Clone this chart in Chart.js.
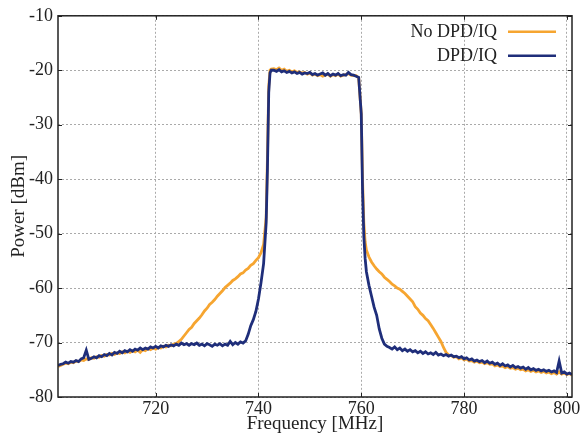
<!DOCTYPE html>
<html>
<head>
<meta charset="utf-8">
<script src="https://cdn.jsdelivr.net/npm/chart.js@4/dist/chart.umd.min.js"></script>
<style>
  body { margin: 0; background: #fff; }
  #wrap { width: 584px; height: 441px; }
</style>
</head>
<body>
<div id="wrap"><canvas id="c"></canvas></div>
<script>
// frequency axis [MHz]
const freq = [
  701, 701.5, 702, 702.5, 703, 703.5, 704, 704.5, 705, 705.5,
  706, 706.5, 707, 707.5, 708, 708.5, 709, 709.5, 710, 710.5,
  711, 711.5, 712, 712.5, 713, 713.5, 714, 714.5, 715, 715.5,
  716, 716.5, 717, 717.5, 718, 718.5, 719, 719.5, 720, 720.5,
  721, 721.5, 722, 722.5, 723, 723.5, 724, 724.5, 725, 725.5,
  726, 726.5, 727, 727.5, 728, 728.5, 729, 729.5, 730, 730.5,
  731, 731.5, 732, 732.5, 733, 733.5, 734, 734.5, 735, 735.5,
  736, 736.5, 737, 737.5, 738, 738.5, 739, 739.5, 740, 740.5,
  741, 741.5, 741.75, 742, 742.25, 742.5, 743, 743.5, 744, 744.5,
  745, 745.5, 746, 746.5, 747, 747.5, 748, 748.5, 749, 749.5,
  750, 750.5, 751, 751.5, 752, 752.5, 753, 753.5, 754, 754.5,
  755, 755.5, 756, 756.5, 757, 757.5, 758, 758.5, 759, 759.5,
  760, 760.25, 760.5, 760.75, 761, 761.5, 762, 762.5, 763, 763.5,
  764, 764.5, 765, 765.5, 766, 766.5, 767, 767.5, 768, 768.5,
  769, 769.5, 770, 770.5, 771, 771.5, 772, 772.5, 773, 773.5,
  774, 774.5, 775, 775.5, 776, 776.5, 777, 777.5, 778, 778.5,
  779, 779.5, 780, 780.5, 781, 781.5, 782, 782.5, 783, 783.5,
  784, 784.5, 785, 785.5, 786, 786.5, 787, 787.5, 788, 788.5,
  789, 789.5, 790, 790.5, 791, 791.5, 792, 792.5, 793, 793.5,
  794, 794.5, 795, 795.5, 796, 796.5, 797, 797.5, 798, 798.5,
  799, 799.5, 800, 800.5, 801
];

// power [dBm], without DPD/IQ correction
const noDpd = [
  -74.4, -74.2, -74.0, -73.8, -73.9, -73.6, -73.7, -73.4, -73.5, -73.2,
  -73.3, -73.0, -73.1, -72.8, -72.9, -72.6, -72.7, -72.4, -72.5, -72.2,
  -72.3, -72.0, -72.2, -71.9, -72.0, -71.7, -71.9, -71.6, -71.8, -71.5,
  -71.7, -71.4, -71.8, -71.3, -71.5, -71.1, -71.3, -71.0, -71.2, -70.9,
  -71.0, -70.7, -70.8, -70.5, -70.6, -70.3, -70.2, -69.8, -69.4, -68.8,
  -68.2, -67.6, -67.2, -66.5, -66.0, -65.5, -64.9, -64.2, -63.7, -63.0,
  -62.6, -62.1, -61.5, -61.0, -60.5, -59.9, -59.5, -59.1, -58.6, -58.3,
  -57.9, -57.4, -57.2, -56.7, -56.4, -55.8, -55.5, -54.9, -54.4, -53.5,
  -52.0, -47.0, -36.0, -23.0, -20.0, -19.8, -19.7, -19.9, -19.6, -20.0,
  -19.8, -20.2, -20.0, -20.3, -20.1, -20.4, -20.3, -20.5, -20.4, -20.7,
  -20.5, -20.9, -20.7, -21.0, -20.8, -21.1, -20.9, -20.7, -21.1, -20.8,
  -21.0, -20.7, -21.1, -20.9, -20.8, -20.6, -20.9, -21.0, -21.0, -21.4,
  -28.0, -40.0, -48.0, -51.5, -53.0, -54.3, -55.2, -55.9, -56.5, -57.0,
  -57.4, -58.0, -58.4, -58.8, -59.3, -59.6, -60.0, -60.2, -60.6, -61.0,
  -61.5, -62.0, -62.5, -63.4, -63.9, -64.6, -65.0, -65.6, -66.0, -66.7,
  -67.4, -68.2, -69.0, -69.8, -70.9, -71.8, -72.3, -72.4, -72.7, -72.6,
  -73.0, -72.8, -73.2, -73.0, -73.4, -73.3, -73.6, -73.4, -73.7, -73.6,
  -73.9, -73.7, -74.0, -73.9, -74.3, -74.1, -74.4, -74.3, -74.6, -74.4,
  -74.7, -74.6, -74.9, -74.7, -75.0, -74.9, -75.2, -75.0, -75.3, -75.1,
  -75.4, -75.2, -75.5, -75.3, -75.6, -75.4, -75.7, -75.5, -75.8, -75.4,
  -75.8, -75.6, -75.9, -75.7, -76.0
];

// power [dBm], with DPD/IQ correction
const dpd = [
  -74.2, -74.0, -73.9, -73.6, -73.8, -73.5, -73.6, -73.3, -73.5, -73.0,
  -72.8, -71.4, -73.1, -72.9, -72.6, -72.8, -72.4, -72.6, -72.2, -72.4,
  -72.0, -72.3, -71.8, -72.0, -71.6, -71.9, -71.5, -71.7, -71.3, -71.6,
  -71.2, -71.4, -71.0, -71.3, -71.0, -71.2, -70.8, -71.0, -70.7, -71.0,
  -70.6, -70.8, -70.5, -70.7, -70.4, -70.6, -70.3, -70.5, -70.1, -70.4,
  -70.2, -70.5, -70.2, -70.4, -70.1, -70.5, -70.3, -70.6, -70.2, -70.4,
  -70.7, -70.3, -70.5, -70.2, -70.6, -70.3, -70.5, -69.8, -70.4, -70.0,
  -70.3, -69.9, -70.1, -69.7, -68.5, -66.9, -65.8, -64.3, -62.0, -59.0,
  -55.5, -48.0, -38.0, -24.0, -20.5, -20.0, -20.0, -20.2, -19.9, -20.3,
  -20.1, -20.4, -20.2, -20.5, -20.3, -20.6, -20.4, -20.7, -20.5, -20.6,
  -20.4, -20.8, -20.6, -20.9, -20.7, -20.5, -20.9, -20.6, -21.0, -20.7,
  -20.9, -20.6, -21.0, -20.8, -20.9, -20.4, -20.8, -20.9, -21.1, -21.3,
  -28.0, -42.0, -50.5, -54.5, -57.0, -59.5, -61.5, -63.5, -65.0, -67.5,
  -69.2, -70.3, -70.7, -70.9, -71.2, -70.8, -71.3, -71.0, -71.5, -71.2,
  -71.6, -71.3, -71.7, -71.5, -71.9, -71.6, -72.0, -71.7, -72.1, -71.9,
  -72.2, -71.8, -72.3, -72.1, -72.4, -72.2, -72.5, -72.3, -72.6, -72.5,
  -72.8, -72.6, -73.0, -72.8, -73.2, -73.0, -73.4, -73.2, -73.5, -73.3,
  -73.7, -73.4, -73.8, -73.6, -74.0, -73.8, -74.2, -73.9, -74.3, -74.1,
  -74.5, -74.2, -74.6, -74.4, -74.7, -74.5, -74.9, -74.6, -75.0, -74.8,
  -75.1, -74.9, -75.2, -75.0, -75.3, -75.1, -75.4, -75.2, -75.5, -73.4,
  -75.6, -75.4, -75.8, -75.6, -75.9
];

const xTicks = [720, 740, 760, 780, 800];
const yTicks = [-80, -70, -60, -50, -40, -30, -20, -10];
const seriesNames = ['No DPD/IQ', 'DPD/IQ'];
const seriesColors = ['#f6a530', '#1f2e7a'];

const serif = 'Liberation Serif';

// gnuplot-like frame, inner tick marks and legend
const framePlugin = {
  id: 'frame',
  afterDraw(chart) {
    const {ctx, chartArea: a, scales: {x, y}} = chart;
    ctx.save();
    ctx.strokeStyle = '#222';
    ctx.lineWidth = 1;
    ctx.beginPath();
    xTicks.forEach(v => {
      const px = Math.round(x.getPixelForValue(v)) + 0.5;
      ctx.moveTo(px, a.bottom); ctx.lineTo(px, a.bottom - 4);
      ctx.moveTo(px, a.top); ctx.lineTo(px, a.top + 4);
    });
    yTicks.forEach(v => {
      const py = Math.round(y.getPixelForValue(v)) + 0.5;
      ctx.moveTo(a.left, py); ctx.lineTo(a.left + 4, py);
      ctx.moveTo(a.right, py); ctx.lineTo(a.right - 4, py);
    });
    ctx.stroke();
    ctx.lineWidth = 1.5;
    ctx.strokeRect(a.left, a.top, a.right - a.left, a.bottom - a.top);

    // legend
    ctx.font = '18px "' + serif + '"';
    ctx.textAlign = 'right';
    ctx.textBaseline = 'middle';
    seriesNames.forEach((name, i) => {
      const ty = a.top + 16 + i * 24;
      ctx.fillStyle = '#222';
      ctx.fillText(name, a.right - 75, ty);
      ctx.strokeStyle = seriesColors[i];
      ctx.lineWidth = 2.5;
      ctx.beginPath();
      ctx.moveTo(a.right - 64, ty);
      ctx.lineTo(a.right - 16, ty);
      ctx.stroke();
    });
    ctx.restore();
  }
};

new Chart(document.getElementById('c'), {
  type: 'line',
  data: {
    labels: freq,
    datasets: [
      {
        label: seriesNames[0],
        data: freq.map((f, i) => ({x: f, y: noDpd[i]})),
        borderColor: seriesColors[0],
        borderWidth: 2.8,
        pointRadius: 0,
        tension: 0,
        order: 1
      },
      {
        label: seriesNames[1],
        data: freq.map((f, i) => ({x: f, y: dpd[i]})),
        borderColor: seriesColors[1],
        borderWidth: 2.8,
        pointRadius: 0,
        tension: 0,
        order: 0
      }
    ]
  },
  options: {
    responsive: true,
    maintainAspectRatio: false,
    animation: false,
    layout: { padding: { top: 12, right: 12, left: 0, bottom: 0 } },
    plugins: {
      legend: { display: false },
      tooltip: { enabled: false }
    },
    scales: {
      x: {
        type: 'linear',
        min: 701,
        max: 801,
        afterBuildTicks: s => { s.ticks = xTicks.map(v => ({value: v})); },
        afterFit: s => { s.height = 44; },
        ticks: { color: '#222', font: { family: serif, size: 18 }, padding: 1, maxRotation: 0 },
        grid: { color: '#aaaaaa', lineWidth: 1, drawTicks: false },
        border: { display: false, dash: [2, 2] },
        title: { display: true, text: 'Frequency [MHz]', color: '#222',
                 font: { family: serif, size: 19 }, padding: { top: 0, bottom: 6 } }
      },
      y: {
        min: -80,
        max: -10,
        afterBuildTicks: s => { s.ticks = yTicks.map(v => ({value: v})); },
        afterFit: s => { s.width = 58; },
        ticks: { color: '#222', font: { family: serif, size: 18 }, padding: 5 },
        grid: { color: '#aaaaaa', lineWidth: 1, drawTicks: false },
        border: { display: false, dash: [2, 2] },
        title: { display: true, text: 'Power [dBm]', color: '#222',
                 font: { family: serif, size: 19 }, padding: { top: 8, bottom: 0 } }
      }
    }
  },
  plugins: [framePlugin]
});
</script>
</body>
</html>
